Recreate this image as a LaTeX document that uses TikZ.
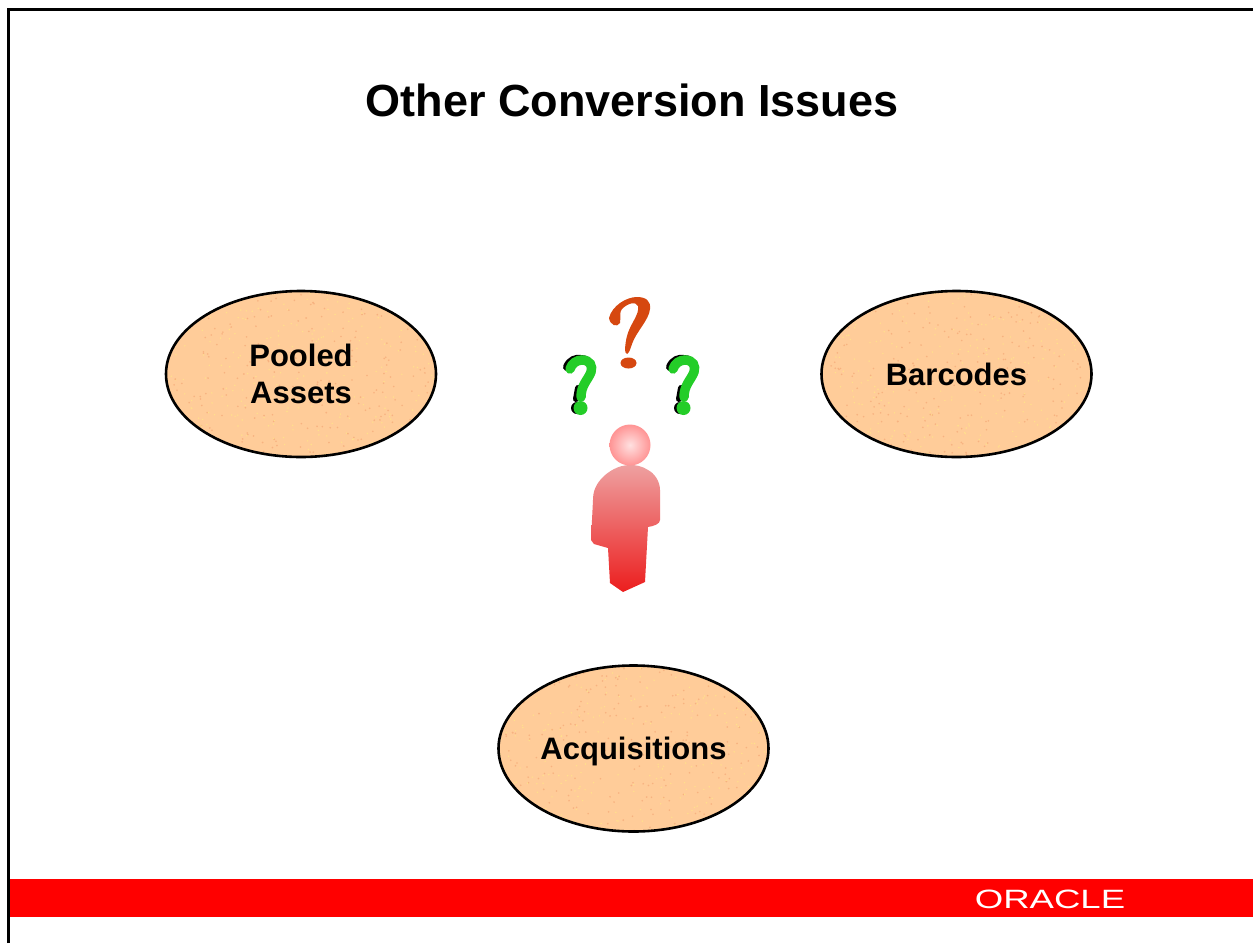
\documentclass[tikz,border=0pt]{standalone}
\usepackage{fontspec}
\setmainfont{Liberation Sans}
\usetikzlibrary{shapes.geometric}
\definecolor{peach}{RGB}{255,204,153}
\definecolor{speckA}{RGB}{247,178,128}
\definecolor{speckB}{RGB}{255,224,140}
\definecolor{qgreen}{RGB}{36,205,40}
\definecolor{qorange}{RGB}{214,72,16}
\definecolor{oraclered}{RGB}{255,0,0}
\definecolor{bodytop}{RGB}{238,160,160}
\definecolor{bodymid}{RGB}{236,105,105}
\definecolor{bodylow}{RGB}{236,30,30}
\newcommand{\speckles}[1]{%
  \pgfmathsetseed{#1}%
  \foreach \k in {1,...,260}{%
    \pgfmathsetmacro{\dx}{136*rand}\pgfmathsetmacro{\dy}{84*rand}%
    \fill[speckA] ([shift={(\dx,\dy)}]path picture bounding box.center) circle (0.9);
    \pgfmathsetmacro{\dx}{136*rand}\pgfmathsetmacro{\dy}{84*rand}%
    \fill[speckB] ([shift={(\dx,\dy)}]path picture bounding box.center) circle (0.8);
  }}
\tikzset{
  topic/.style={ellipse,draw=black,line width=2.6pt,fill=peach,minimum width=270pt,minimum height=166pt,inner sep=0pt,align=center,font=\fontsize{31}{37}\selectfont\bfseries},
  qgreenstroke/.style={draw=qgreen,line width=9.5pt,line cap=round},
  qblackstroke/.style={draw=black,line width=8pt,line cap=round}
}
\begin{document}
\begin{tikzpicture}[x=1pt,y=-1pt]
\useasboundingbox (0,0) rectangle (1253,943);
\fill[white] (0,0) rectangle (1253,943);
\draw[black,line width=3.2pt] (8.5,943) -- (8.5,9.5) -- (1253,9.5);
\node[inner sep=0pt,font=\fontsize{45}{46}\selectfont\bfseries] (title) at (632,100) {Other Conversion Issues};
\node[topic,path picture={\speckles{11}}] (pooled) at (301,374) {Pooled\\Assets};
\node[topic,path picture={\speckles{23}}] (barcodes) at (956.5,374) {Barcodes};
\node[topic,path picture={\speckles{37}}] (acq) at (633.5,748.5) {\raisebox{-11pt}[0pt][0pt]{Acquisitions}};
% green question marks
\foreach \qx/\nm in {0/ql,103/qr}{
  \begin{scope}[xshift=\qx]
    \draw[qblackstroke] (567,367) .. controls (570,360) and (576,358) .. (581,359)
      .. controls (586,359) and (590,362) .. (591,366);
    \draw[qblackstroke,line width=6pt] (578,388) -- (576,399);
    \fill[black] (577,408) circle (6);
    \draw[qgreenstroke] (570,369) .. controls (572,363) and (577,360) .. (582,360)
      .. controls (590,360) and (593,366) .. (591,372)
      .. controls (588,380) and (581,385) .. (581,397);
    \fill[qgreen] (580.5,408) circle (7);
  \end{scope}
}
% orange question mark
\fill[qorange] (609,318) .. controls (612,306) and (626,297) .. (637,297)
  .. controls (646,297) and (651,301) .. (650,309)
  .. controls (649,320) and (636,332) .. (632,344)
  .. controls (630,350) and (629,353) .. (627,354)
  .. controls (624,354) and (625,344) .. (627,336)
  .. controls (630,324) and (640,314) .. (638,306)
  .. controls (636,301) and (628,303) .. (622,309)
  .. controls (619,312) and (621,318) .. (620,323)
  .. controls (617,328) and (610,325) .. (609,318) -- cycle;
\fill[qorange] (628.5,363) ellipse (8 and 5.5);
% person
\shade[top color=bodytop,middle color=bodymid,bottom color=bodylow]
  (630,465) .. controls (618,465) and (608,472) .. (603,477)
  .. controls (596,484) and (593,491) .. (593,500)
  -- (591,540) -- (594,544) -- (608,548) -- (610,583) -- (623,592) -- (645,582) -- (648,527)
  .. controls (654,526) and (660,524) .. (660,520)
  -- (660,490) .. controls (660,481) and (654,473) .. (648,470)
  .. controls (642,466) and (636,465) .. (630,465) -- cycle;
\shade[inner color=red!12!white,outer color=red!42!white] (630,445) circle (20.5);
\fill[oraclered] (10,879) rectangle (1253,917);
\node[inner sep=0pt,text=white,font=\fontsize{26.5}{26.5}\selectfont,xscale=1.38,transform shape] (oracle) at (1050,899) {ORACLE};
\end{tikzpicture}
\end{document}
